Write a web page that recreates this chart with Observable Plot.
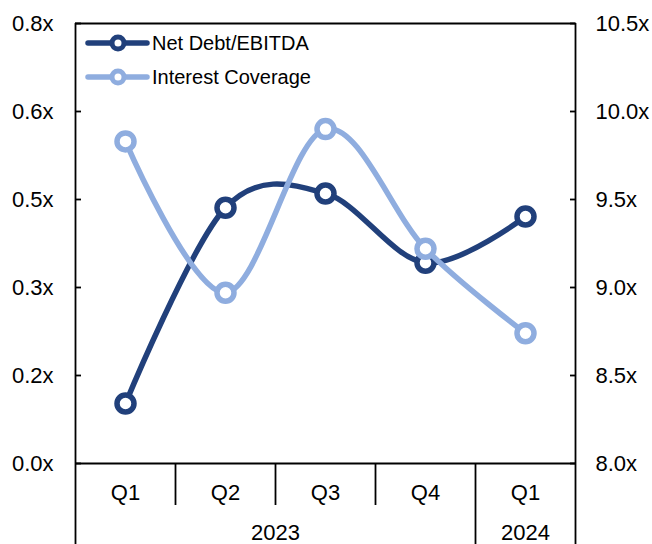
<!DOCTYPE html>
<html>
<head>
<meta charset="utf-8">
<script src="https://cdn.jsdelivr.net/npm/d3@7"></script>
<script src="https://cdn.jsdelivr.net/npm/@observablehq/plot@0.6"></script>
<style>
  html, body { margin: 0; padding: 0; background: #fff; }
  #wrap { position: relative; width: 652px; height: 544px; }
  #legend { position: absolute; left: 0; top: 0; pointer-events: none; }
</style>
</head>
<body>
<div id="wrap"></div>
<script>
// ---- data ----
const quarters = ["Q1", "Q2", "Q3", "Q4", "Q1"];
const years = ["2023", "2023", "2023", "2023", "2024"];
const netDebtEbitda = [0.109, 0.465, 0.491, 0.365, 0.449];
const interestCoverage = [9.83, 8.97, 9.90, 9.22, 8.74];
const leftTicks = [0, 0.16, 0.32, 0.48, 0.64, 0.8];
const rightTicks = [8.0, 8.5, 9.0, 9.5, 10.0, 10.5];
const seriesNames = ["Net Debt/EBITDA", "Interest Coverage"];
const seriesColors = ["#21407B", "#8FADDF"];

// right axis [8, 10.5] mapped onto left axis [0, 0.8]
const rMin = 8, rMax = 10.5, lMax = 0.8;
const toLeft = v => (v - rMin) / (rMax - rMin) * lMax;
const toRight = d => d / lMax * (rMax - rMin) + rMin;

const idx = quarters.map((q, i) => i);
const netRows = idx.map(i => ({x: i + 0.5, y: netDebtEbitda[i]}));
const covRows = idx.map(i => ({x: i + 0.5, y: toLeft(interestCoverage[i])}));

// year groups derived from years array
const yearGroups = [];
years.forEach((y, i) => {
  const last = yearGroups[yearGroups.length - 1];
  if (last && last.year === y) last.end = i + 1;
  else yearGroups.push({year: y, start: i, end: i + 1});
});
const groupEdges = [0, ...yearGroups.map(g => g.end)];
const innerEdges = idx.slice(1).filter(i => !groupEdges.includes(i));

const font = "'Liberation Sans', Arial, Helvetica, sans-serif";
const fs = 22;

const chart = Plot.plot({
  width: 652,
  height: 544,
  marginLeft: 75,
  marginRight: 77,
  marginTop: 23,
  marginBottom: 81,
  style: {fontFamily: font, fontSize: fs + "px", color: "#000", background: "#fff", overflow: "visible"},
  x: {domain: [0, quarters.length], axis: null},
  y: {domain: [0, lMax], axis: null},
  marks: [
    Plot.axisY(leftTicks, {anchor: "left", label: null, tickSize: -6, tickPadding: 28, strokeWidth: 1.8,
      tickFormat: d => d.toFixed(1) + "x", fontSize: fs}),
    Plot.axisY(rightTicks.map(toLeft), {anchor: "right", label: null, tickSize: -6, tickPadding: 26, strokeWidth: 1.8,
      tickFormat: d => toRight(d).toFixed(1) + "x", fontSize: fs}),
    // frame
    Plot.ruleY([lMax], {stroke: "#000", strokeWidth: 1.8}),
    Plot.ruleY([0], {stroke: "#000", strokeWidth: 1.8}),
    Plot.ruleX([0, quarters.length], {stroke: "#000", strokeWidth: 1.8, insetBottom: -81}),
    Plot.ruleX(groupEdges.filter(e => e > 0 && e < quarters.length), {stroke: "#000", strokeWidth: 1.8, insetTop: 440, insetBottom: -81}),
    Plot.ruleX(innerEdges, {stroke: "#000", strokeWidth: 1.8, insetTop: 440, insetBottom: -42}),
    // category labels
    Plot.text(idx, {x: i => i + 0.5, y: 0, dy: 29, text: i => quarters[i], fontSize: fs, fill: "#000"}),
    Plot.text(yearGroups, {x: g => (g.start + g.end) / 2, y: 0, dy: 69, text: "year", fontSize: fs, fill: "#000"}),
    // series
    Plot.line(netRows, {x: "x", y: "y", stroke: seriesColors[0], strokeWidth: 5.5, curve: "cardinal"}),
    Plot.dot(netRows, {x: "x", y: "y", r: 8.5, fill: "#fff", stroke: seriesColors[0], strokeWidth: 5.5}),
    Plot.line(covRows, {x: "x", y: "y", stroke: seriesColors[1], strokeWidth: 5.5, curve: "cardinal"}),
    Plot.dot(covRows, {x: "x", y: "y", r: 8.5, fill: "#fff", stroke: seriesColors[1], strokeWidth: 5.5})
  ]
});

const wrap = document.getElementById("wrap");
wrap.appendChild(chart);

// legend overlay (inside plot area, top-left)
const ns = "http://www.w3.org/2000/svg";
const leg = document.createElementNS(ns, "svg");
leg.setAttribute("id", "legend");
leg.setAttribute("width", 400);
leg.setAttribute("height", 100);
seriesNames.forEach((name, i) => {
  const cy = 43 + i * 34;
  const line = document.createElementNS(ns, "line");
  line.setAttribute("x1", 88); line.setAttribute("x2", 147);
  line.setAttribute("y1", cy); line.setAttribute("y2", cy);
  line.setAttribute("stroke", seriesColors[i]);
  line.setAttribute("stroke-width", 5.5);
  line.setAttribute("stroke-linecap", "round");
  leg.appendChild(line);
  const c = document.createElementNS(ns, "circle");
  c.setAttribute("cx", 118); c.setAttribute("cy", cy); c.setAttribute("r", 6);
  c.setAttribute("fill", "#fff");
  c.setAttribute("stroke", seriesColors[i]);
  c.setAttribute("stroke-width", 5);
  leg.appendChild(c);
  const t = document.createElementNS(ns, "text");
  t.setAttribute("x", 152); t.setAttribute("y", cy);
  t.setAttribute("dy", "0.35em");
  t.setAttribute("font-family", font);
  t.setAttribute("font-size", 20);
  t.setAttribute("fill", "#000");
  t.textContent = name;
  leg.appendChild(t);
});
wrap.appendChild(leg);
</script>
</body>
</html>
